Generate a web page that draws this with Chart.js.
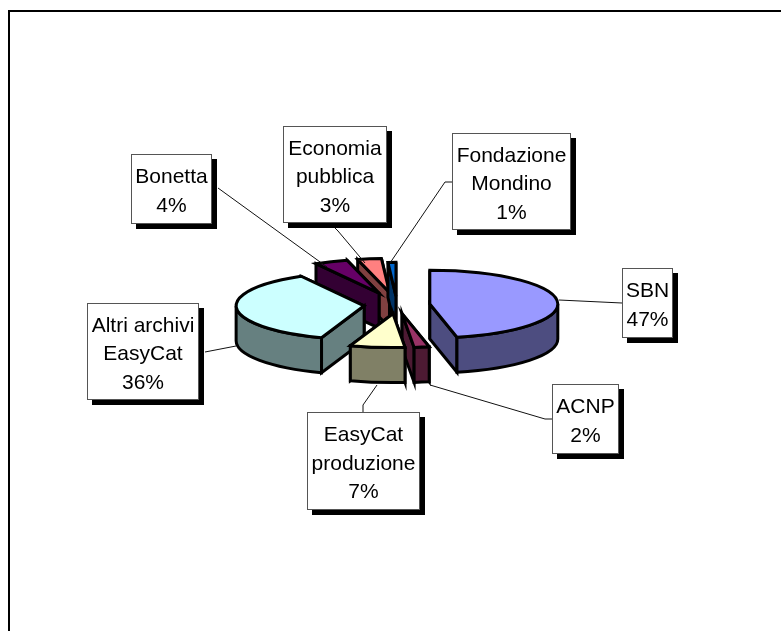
<!DOCTYPE html>
<html><head><meta charset="utf-8">
<style>html,body{margin:0;padding:0;background:#fff}canvas{display:block}</style>
<script src="https://cdn.jsdelivr.net/npm/chart.js@4"></script></head>
<body><div style="width:781px;height:631px"><canvas id="c" width="781" height="631"></canvas></div>
<script>
const categories = ['SBN','ACNP','EasyCat produzione','Altri archivi EasyCat','Bonetta','Economia pubblica','Fondazione Mondino'];
const shares = [46.6,1.9,6.9,36.4,4.2,3.0,1.0];
const topColors = ['#9999FF','#993366','#FFFFCC','#CCFFFF','#660066','#FF8080','#0066CC'];
const sideColors = ['#4D4D80','#4D1A33','#808066','#668080','#330033','#804040','#003366'];
const explosion = [33,33,33,33,48,48,33];
const tilt = 0.265, depth = 35, edge = 3;
// label box: [left, top, right, bottom]; leader polyline
const boxes = [[622,268,673,338],[552,384,619,454],[307,412,420,510],[87,303,199,400],[131,154,212,224],[283,126,387,223],[452,133,571,230]];
const leaders = [
 [[559,300],[622,303]],
 [[552,419],[545,419],[430,385]],
 [[363,412],[363,405],[377,385]],
 [[205,352],[236,346]],
 [[218,188],[327,267]],
 [[335,228],[338,231],[365,263]],
 [[452,182],[445,182],[390,263]]
];
const fontPx = 21, lineH = 28.6;

const pie3d = {
  id:'pie3d',
  beforeDatasetsDraw(chart){
    const ctx = chart.ctx, meta = chart.getDatasetMeta(0);
    const items = meta.data.map((arc,i)=>{
      const p = arc.getProps(['x','y','startAngle','endAngle','outerRadius']);
      const mid = (p.startAngle+p.endAngle)/2;
      return {arc,i,...p,ax:p.x+Math.cos(mid)*explosion[i],ay:p.y+Math.sin(mid)*explosion[i]*tilt};
    }).sort((a,b)=>a.ay-b.ay);
    ctx.save();
    ctx.lineJoin='miter'; ctx.miterLimit=6; ctx.lineWidth=edge; ctx.strokeStyle='#000';
    for(const s of items){
      const r=s.outerRadius, ry=r*tilt;
      const pt=(t)=>[s.ax+Math.cos(t)*r, s.ay+Math.sin(t)*ry];
      const faces=[s.startAngle,s.endAngle].map(t=>({t,p:pt(t)})).sort((a,b)=>a.p[1]-b.p[1]);
      ctx.fillStyle=sideColors[s.i];
      for(const f of faces){
        ctx.beginPath();
        ctx.moveTo(s.ax,s.ay);ctx.lineTo(f.p[0],f.p[1]);ctx.lineTo(f.p[0],f.p[1]+depth);ctx.lineTo(s.ax,s.ay+depth);ctx.closePath();
        ctx.fill();ctx.stroke();
      }
      // outer wall: the part of the rim facing the viewer
      const norm=t=>{const T=Math.PI*2;return ((t%T)+T)%T;};
      let a=norm(s.startAngle), b=a+(s.endAngle-s.startAngle);
      const ranges=[[0,Math.PI],[2*Math.PI,3*Math.PI]];
      for(const [lo,hi] of ranges){
        const w0=Math.max(a,lo), w1=Math.min(b,hi);
        if(w1>w0){
          ctx.beginPath();
          ctx.ellipse(s.ax,s.ay,r,ry,0,w0,w1);
          ctx.ellipse(s.ax,s.ay+depth,r,ry,0,w1,w0,true);
          ctx.closePath();ctx.fill();ctx.stroke();
        }
      }
      // top face: filled by the library's arc element
      ctx.save();
      ctx.translate(s.ax,s.ay);ctx.scale(1,tilt);ctx.translate(-s.x,-s.y);
      s.arc.draw(ctx);
      ctx.restore();
      ctx.beginPath();
      ctx.moveTo(s.ax,s.ay);
      ctx.ellipse(s.ax,s.ay,r,ry,0,s.startAngle,s.endAngle);
      ctx.closePath();ctx.stroke();
    }
    ctx.restore();
    return false;
  },
  afterDraw(chart){
    const ctx=chart.ctx;
    ctx.save();
    ctx.strokeStyle='#000';ctx.lineWidth=2;
    ctx.beginPath();ctx.moveTo(9,631);ctx.lineTo(9,11);ctx.lineTo(781,11);ctx.stroke();
    ctx.lineWidth=1;ctx.strokeStyle='#111';
    leaders.forEach(l=>{ctx.beginPath();l.forEach((p,i)=>i?ctx.lineTo(p[0],p[1]):ctx.moveTo(p[0],p[1]));ctx.stroke();});
    ctx.font=fontPx+'px "Liberation Sans", Arial, sans-serif';
    ctx.textAlign='center';ctx.textBaseline='middle';
    categories.forEach((name,i)=>{
      const [l,t,r,b]=boxes[i];
      ctx.fillStyle='#000';ctx.fillRect(l+5,t+5,r-l,b-t);
      ctx.fillStyle='#fff';ctx.fillRect(l,t,r-l,b-t);
      ctx.strokeStyle='#555';ctx.lineWidth=1;ctx.strokeRect(l+.5,t+.5,r-l-1,b-t-1);
      const cut=name.lastIndexOf(' ');
      const lines=(cut>0?[name.slice(0,cut),name.slice(cut+1)]:[name]).concat(Math.round(shares[i])+'%');
      ctx.fillStyle='#000';
      const y0=(t+b)/2-(lines.length-1)*lineH/2+3;
      lines.forEach((s,k)=>ctx.fillText(s,(l+r)/2,y0+k*lineH));
    });
    ctx.restore();
  }
};
new Chart(document.getElementById('c'),{
  type:'pie',
  data:{labels:categories,datasets:[{data:shares,backgroundColor:topColors,borderWidth:0}]},
  options:{responsive:false,animation:false,radius:128,
    layout:{padding:{left:13,right:0,top:0,bottom:21}},
    plugins:{legend:{display:false},tooltip:{enabled:false}}},
  plugins:[pie3d]
});
</script></body></html>
